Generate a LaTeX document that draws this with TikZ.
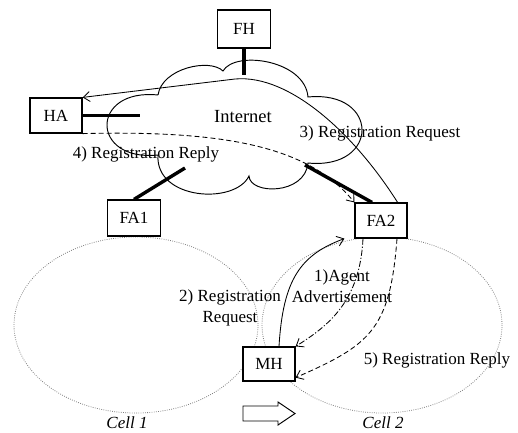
\documentclass[tikz,border=0pt]{standalone}
\usepackage{fontspec}
\setmainfont{Liberation Serif}
\usetikzlibrary{arrows.meta}
\begin{document}
\begin{tikzpicture}[x=1pt,y=-1pt,
  txt/.style={font=\fontsize{17}{20.4}\selectfont, inner sep=0pt},
  hostbox/.style={draw, line width=1.2pt, fill=white, inner sep=0pt, font=\fontsize{17}{20.4}\selectfont},
  link/.style={line width=3.4pt},
  msg/.style={line width=0.85pt, -{Straight Barb[length=6.5pt,width=10pt,line width=0.85pt]}},
  cellline/.style={draw=gray, line width=0.8pt, dash pattern=on 0.8pt off 1.4pt}
]
\useasboundingbox (0,0) rectangle (518,432);

% cells
\draw[cellline] (136,325) ellipse [x radius=122, y radius=88];
\draw[cellline] (382,325) ellipse [x radius=120, y radius=88];

% cloud
\draw[line width=0.95pt]
  (158,95) .. controls (162,68) and (210,58) .. (223,71)
  .. controls (235,50) and (305,60) .. (308,97)
  .. controls (380,90) and (380,170) .. (308,163)
  .. controls (305,195) and (250,195) .. (249,176)
  .. controls (235,205) and (155,200) .. (158,155)
  .. controls (90,162) and (90,88) .. (158,95);
\node[txt, font=\fontsize{18.5}{22}\selectfont] (inet) at (243,117) {Internet};

% hosts
\node[hostbox, minimum width=53pt, minimum height=38pt] (FH) at (244,29) {FH};
\node[hostbox, minimum width=52pt, minimum height=35pt] (HA) at (56,115.5) {HA};
\node[hostbox, minimum width=53pt, minimum height=36pt] (FA1) at (134,218) {FA1};
\node[hostbox, minimum width=52pt, minimum height=35pt] (FA2) at (381,220.5) {FA2};
\node[hostbox, minimum width=52pt, minimum height=34pt] (MH) at (269,364) {MH};

% links to the internet
\coordinate (fhc) at (244,75);
\coordinate (hac) at (140,115.5);
\coordinate (fa1c) at (185,168);
\coordinate (fa2c) at (305,165);
\draw[link] (FH.south) -- (fhc);
\draw[link] (HA.east) -- (hac);
\draw[link] (FA1.north) -- (fa1c);
\draw[link] ([xshift=-9pt]FA2.north) -- (fa2c);

% messages
\draw[msg] ([xshift=-10pt]FA2.north east) .. controls (355,135) and (290,74) .. (235,79) -- (HA.north east);
\draw[msg, dash pattern=on 5pt off 3pt] (HA.south east) .. controls (230,130) and (310,148) .. (FA2.north west);
\draw[msg] ([xshift=10pt]MH.north) .. controls (283,280) and (300,255) .. ([xshift=-10pt]FA2.south west);
\draw[msg, dash pattern=on 6pt off 2pt on 1.2pt off 2pt] ([xshift=-18pt]FA2.south) .. controls (360,300) and (330,325) .. (MH.north east);
\draw[msg, dash pattern=on 5pt off 3pt] ([xshift=16pt]FA2.south) .. controls (390,330) and (370,345) .. ([yshift=4pt]MH.south east);

% labels
\node[txt] (l3) at (380,133) {3) Registration Request};
\node[txt] (l4) at (146,154) {4) Registration Reply};
\node[txt, align=center] (l2) at (230,308) {2) Registration\\Request};
\node[txt, align=center] (l1) at (342,286) {1)Agent\\Advertisement};
\node[txt] (l5) at (437,360) {5) Registration Reply};
\node[txt, font=\fontsize{17}{20.4}\selectfont\itshape] (c1) at (127,423) {Cell 1};
\node[txt, font=\fontsize{17}{20.4}\selectfont\itshape] (c2) at (383,423) {Cell 2};

% movement arrow
\draw[line width=0.95pt, fill=white] (243,406) -- (278,406) -- (278,402) -- (295,413.5) -- (278,425) -- (278,421) -- (243,421) -- cycle;
\end{tikzpicture}
\end{document}
